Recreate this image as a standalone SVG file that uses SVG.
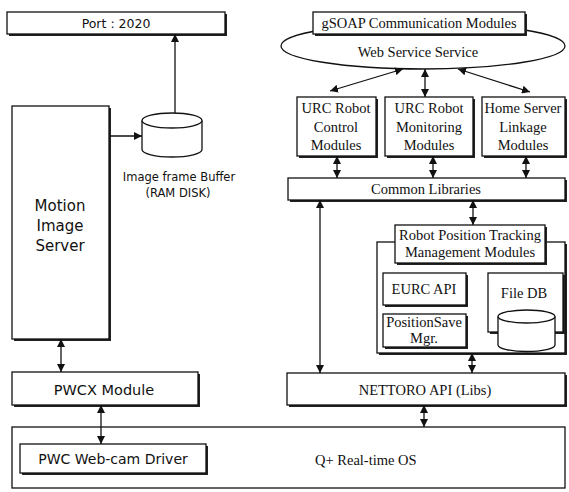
<svg xmlns="http://www.w3.org/2000/svg" width="569" height="492" viewBox="0 0 569 492">
<style>
.box{fill:#fff;stroke:#111;stroke-width:1.3}
.sh{fill:#222;stroke:none}
.ln{fill:none;stroke:#111;stroke-width:1.3}
.sans{font-family:"DejaVu Sans",sans-serif;fill:#111;text-anchor:middle}
.serif{font-family:"Liberation Serif",serif;font-size:14.5px;fill:#111;text-anchor:middle}
</style>
<defs>
<marker id="ah" viewBox="0 0 10 10" refX="10" refY="5" markerWidth="8" markerHeight="8" markerUnits="userSpaceOnUse" orient="auto-start-reverse">
<path d="M0,0 L10,5 L0,10 Z" fill="#111"/>
</marker>
</defs>

<g id="os">
<rect class="box" x="12" y="427" width="553" height="61"/>
<text class="serif" x="315" y="465" style="text-anchor:start">Q+ Real-time OS</text>
</g>

<g id="port">
<rect class="sh" x="9" y="14" width="218" height="22"/>
<rect class="box" x="7" y="12" width="218" height="22"/>
<text class="sans" x="116" y="28" font-size="12.5">Port : 2020</text>
</g>

<g id="motion-server">
<rect class="sh" x="14" y="108" width="97" height="233"/>
<rect class="box" x="12" y="106" width="97" height="233"/>
<text class="sans" x="60" y="211" font-size="15">Motion</text>
<text class="sans" x="60" y="231" font-size="15">Image</text>
<text class="sans" x="60" y="251" font-size="15">Server</text>
</g>

<g id="buffer">
<path class="box" d="M142,120.5 L142,149.5 A30,7.5 0 0 0 202,149.5 L202,120.5"/>
<ellipse class="box" cx="172" cy="120.5" rx="30" ry="7.5"/>
<text class="sans" x="179" y="181" font-size="11.5">Image frame Buffer</text>
<text class="sans" x="178" y="197" font-size="11.5">(RAM DISK)</text>
</g>

<g id="pwcx">
<rect class="sh" x="14" y="374" width="186" height="33"/>
<rect class="box" x="12" y="372" width="186" height="33"/>
<text class="sans" x="104" y="395" font-size="14.5">PWCX Module</text>
</g>

<g id="pwc-driver">
<rect class="sh" x="22" y="446" width="186" height="29"/>
<rect class="box" x="20" y="444" width="186" height="29"/>
<text class="sans" x="113" y="464" font-size="14">PWC Web-cam Driver</text>
</g>

<g id="web-service">
<ellipse class="box" cx="423" cy="46" rx="142" ry="23"/>
<text class="serif" x="418" y="57">Web Service Service</text>
</g>

<g id="gsoap">
<rect class="sh" x="315" y="14" width="212" height="22"/>
<rect class="box" x="313" y="12" width="212" height="22"/>
<text class="serif" x="419" y="28">gSOAP Communication Modules</text>
</g>

<g id="urc-control">
<rect class="sh" x="299" y="99" width="79" height="59"/>
<rect class="box" x="297" y="97" width="79" height="59"/>
<text class="serif" x="336" y="113">URC Robot</text>
<text class="serif" x="336" y="132">Control</text>
<text class="serif" x="336" y="150">Modules</text>
</g>

<g id="urc-monitoring">
<rect class="sh" x="387" y="99" width="88" height="59"/>
<rect class="box" x="385" y="97" width="88" height="59"/>
<text class="serif" x="429" y="113">URC Robot</text>
<text class="serif" x="429" y="132">Monitoring</text>
<text class="serif" x="429" y="150">Modules</text>
</g>

<g id="home-server">
<rect class="sh" x="484" y="99" width="83" height="59"/>
<rect class="box" x="482" y="97" width="83" height="59"/>
<text class="serif" x="523" y="113">Home Server</text>
<text class="serif" x="523" y="132">Linkage</text>
<text class="serif" x="523" y="150">Modules</text>
</g>

<g id="common-libraries">
<rect class="sh" x="290" y="180" width="277" height="22"/>
<rect class="box" x="288" y="178" width="277" height="22"/>
<text class="serif" x="426" y="194">Common Libraries</text>
</g>

<g id="robot-position">
<rect class="sh" x="379" y="244" width="188" height="111"/>
<rect class="box" x="377" y="242" width="188" height="111"/>
<rect class="sh" x="397" y="227" width="150" height="38"/>
<rect class="box" x="395" y="225" width="150" height="38"/>
<text class="serif" x="470" y="240">Robot Position Tracking</text>
<text class="serif" x="470" y="257">Management Modules</text>
</g>

<g id="eurc-api">
<rect class="sh" x="385" y="275" width="83" height="32"/>
<rect class="box" x="383" y="273" width="83" height="32"/>
<text class="serif" x="424" y="294">EURC API</text>
</g>

<g id="position-save">
<rect class="sh" x="385" y="316" width="83" height="33"/>
<rect class="box" x="383" y="314" width="83" height="33"/>
<text class="serif" x="424" y="327">PositionSave</text>
<text class="serif" x="424" y="343">Mgr.</text>
</g>

<g id="file-db">
<rect class="sh" x="490" y="275" width="75" height="59"/>
<rect class="box" x="488" y="273" width="75" height="59"/>
<text class="serif" x="524" y="298">File DB</text>
<path class="box" d="M498,316.5 L498,345 A28.5,6.5 0 0 0 555,345 L555,316.5"/>
<ellipse class="box" cx="526.5" cy="316.5" rx="28.5" ry="6.5"/>
</g>

<g id="nettoro">
<rect class="sh" x="289" y="375" width="278" height="32"/>
<rect class="box" x="287" y="373" width="278" height="32"/>
<text class="serif" x="425" y="395">NETTORO API (Libs)</text>
</g>

<g id="connectors" class="ln">
<line x1="175" y1="113" x2="175" y2="34" marker-end="url(#ah)"/>
<line x1="109" y1="136" x2="142" y2="136" marker-end="url(#ah)"/>
<line x1="61" y1="339" x2="61" y2="372" marker-start="url(#ah)" marker-end="url(#ah)"/>
<line x1="101" y1="405" x2="101" y2="444" marker-start="url(#ah)" marker-end="url(#ah)"/>
<line x1="403" y1="69" x2="330" y2="91" marker-start="url(#ah)" marker-end="url(#ah)"/>
<line x1="425" y1="69" x2="425" y2="97" marker-start="url(#ah)" marker-end="url(#ah)"/>
<line x1="458" y1="69" x2="530" y2="92" marker-start="url(#ah)" marker-end="url(#ah)"/>
<line x1="337" y1="156" x2="337" y2="178" marker-start="url(#ah)" marker-end="url(#ah)"/>
<line x1="433" y1="156" x2="433" y2="178" marker-start="url(#ah)" marker-end="url(#ah)"/>
<line x1="526" y1="156" x2="526" y2="178" marker-start="url(#ah)" marker-end="url(#ah)"/>
<line x1="473" y1="200" x2="473" y2="225" marker-start="url(#ah)" marker-end="url(#ah)"/>
<line x1="320" y1="200" x2="320" y2="373" marker-start="url(#ah)" marker-end="url(#ah)"/>
<line x1="472" y1="353" x2="472" y2="373" marker-start="url(#ah)" marker-end="url(#ah)"/>
<line x1="424" y1="405" x2="424" y2="427" marker-start="url(#ah)" marker-end="url(#ah)"/>
</g>
</svg>
